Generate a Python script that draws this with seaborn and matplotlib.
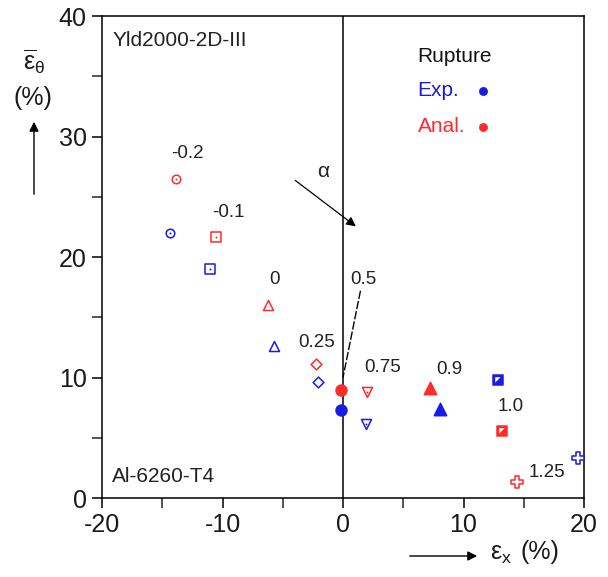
import matplotlib
matplotlib.use("Agg")
import matplotlib.pyplot as plt
import seaborn as sns
import numpy as np

# ---- data ----
alphas = ['-0.2', '-0.1', '0', '0.25', '0.5', '0.75', '0.9', '1.0', '1.25']
exp_x = [-14.35, -11.0, -5.7, -2.1, -0.15, 1.9, 8.05, 12.9, 19.5]
exp_y = [22.0, 19.0, 12.6, 9.65, 7.3, 6.1, 7.4, 9.8, 3.35]
anal_x = [-13.9, -10.5, -6.25, -2.2, -0.15, 2.0, 7.2, 13.2, 14.4]
anal_y = [26.5, 21.7, 16.0, 11.1, 8.95, 8.8, 9.1, 5.55, 1.3]
label_x = [-12.9, -9.5, -5.7, -2.2, 1.7, 3.3, 8.8, 13.9, 16.9]
label_y = [28.6, 23.7, 18.1, 12.9, 18.1, 10.8, 10.7, 7.6, 2.1]
x_ticks = [-20, -10, 0, 10, 20]
y_ticks = [0, 10, 20, 30, 40]

sns.set_style("ticks")
plt.rcParams['font.family'] = ['Liberation Sans', 'DejaVu Sans']
plt.rcParams['mathtext.fontset'] = 'dejavusans'
plt.rcParams['mathtext.default'] = 'regular'
plt.rcParams['axes.unicode_minus'] = False

BLUE = '#1a1ae6'
RED = '#ff2a2a'

fig = plt.figure(figsize=(6.08, 5.77), dpi=100)
ax = fig.add_axes([102 / 608, 1 - 498 / 577, (584 - 102) / 608, (498 - 16) / 577])

# marker styles per alpha: (marker, size, filled, centre dot)
styles = [
    ('o', 38, False, True),
    ('s', 42, False, True),
    ('^', 52, False, False),
    ('D', 30, False, False),
    ('o', 62, True, False),
    ('v', 52, False, True),
    ('^', 80, True, False),
    ('s', 60, True, False),
    ('P', 80, False, False),
]

half_tri = [(-0.55, 0.55), (0.35, 0.55), (-0.55, -0.35), (-0.55, 0.55)]

for xs, ys, col in [(exp_x, exp_y, BLUE), (anal_x, anal_y, RED)]:
    for i, (mk, sz, filled, dot) in enumerate(styles):
        fc = col if filled else 'white'
        sns.scatterplot(x=[xs[i]], y=[ys[i]], marker=mk, s=sz, color=col,
                        facecolor=fc, edgecolor=col, linewidth=1.1,
                        ax=ax, zorder=3, legend=False)
        if dot:
            sns.scatterplot(x=[xs[i]], y=[ys[i]], marker='o', s=2, color=col,
                            edgecolor=col, linewidth=0, ax=ax, zorder=4,
                            legend=False)
        if i == 7:
            sns.scatterplot(x=[xs[i]], y=[ys[i]], marker=half_tri, s=22,
                            color='white', edgecolor='white', linewidth=0,
                            ax=ax, zorder=4, legend=False)

for lab, lx, ly in zip(alphas, label_x, label_y):
    ax.text(lx, ly, lab, fontsize=13.5, ha='center', va='center', color='#222222')

# vertical zero line
ax.axvline(0, color='black', lw=1.1, zorder=1)

# alpha arrow
ax.annotate('', xy=(1.25, 22.4), xytext=(-4.15, 26.5),
            arrowprops=dict(arrowstyle='-|>', color='black', lw=0.9,
                            mutation_scale=14))
ax.text(-1.65, 27.1, 'α', fontsize=15, ha='center', va='center', color='#222222')

# leader for 0.5
ax.plot([1.45, 0.0], [17.2, 10.0], color='black', lw=1.0, ls=(0, (6, 1.5)))

# annotations
ax.text(-19.1, 38.0, 'Yld2000-2D-III', fontsize=15, ha='left', va='center', color='#222222')
ax.text(-19.2, 1.8, 'Al-6260-T4', fontsize=15, ha='left', va='center', color='#222222')
ax.text(6.2, 36.6, 'Rupture', fontsize=15, ha='left', va='center', color='#111111')
ax.text(6.2, 33.8, 'Exp.', fontsize=15, ha='left', va='center', color=BLUE)
ax.text(6.2, 30.8, 'Anal.', fontsize=15, ha='left', va='center', color=RED)
sns.scatterplot(x=[11.6], y=[33.8], s=35, color=BLUE, edgecolor=BLUE, ax=ax, legend=False)
sns.scatterplot(x=[11.6], y=[30.8], s=35, color=RED, edgecolor=RED, ax=ax, legend=False)

ax.set_xlim(-20, 20)
ax.set_ylim(0, 40)
ax.set_xticks(x_ticks)
ax.set_yticks(y_ticks)
ax.set_xticks([-15, -5, 5, 15], minor=True)
ax.set_yticks([5, 15, 25, 35], minor=True)
ax.tick_params(axis='both', which='major', labelsize=18, length=7, width=1.1,
               direction='out', color='black', labelcolor='#1a1a1a', pad=4)
ax.tick_params(axis='both', which='minor', length=7, width=1.1, direction='out')
for s in ax.spines.values():
    s.set_visible(True)
    s.set_linewidth(1.1)
    s.set_color('black')
ax.set_xlabel('')
ax.set_ylabel('')

# y label (manual)
fig.text(34 / 608, 1 - 62 / 577, r'$\overline{\varepsilon}_{\theta}$', fontsize=18,
         ha='center', va='center', color='#1a1a1a')
fig.text(33 / 608, 1 - 98 / 577, '(%)', fontsize=18, ha='center', va='center',
         color='#1a1a1a')
fig.add_artist(matplotlib.patches.FancyArrowPatch(
    (34 / 608, 1 - 197 / 577), (34 / 608, 1 - 119 / 577),
    transform=fig.transFigure, arrowstyle='-|>', mutation_scale=14,
    color='black', lw=1.0))

# x label (manual)
fig.add_artist(matplotlib.patches.FancyArrowPatch(
    (407 / 608, 1 - 556 / 577), (480 / 608, 1 - 556 / 577),
    transform=fig.transFigure, arrowstyle='-|>', mutation_scale=14,
    color='black', lw=1.0))
fig.text(490 / 608, 1 - 554 / 577, r'$\varepsilon_{x}$', fontsize=18,
         ha='left', va='center', color='#1a1a1a')
fig.text(521 / 608, 1 - 552 / 577, '(%)', fontsize=18, ha='left', va='center',
         color='#1a1a1a')

fig.savefig('out.png', dpi=100)
